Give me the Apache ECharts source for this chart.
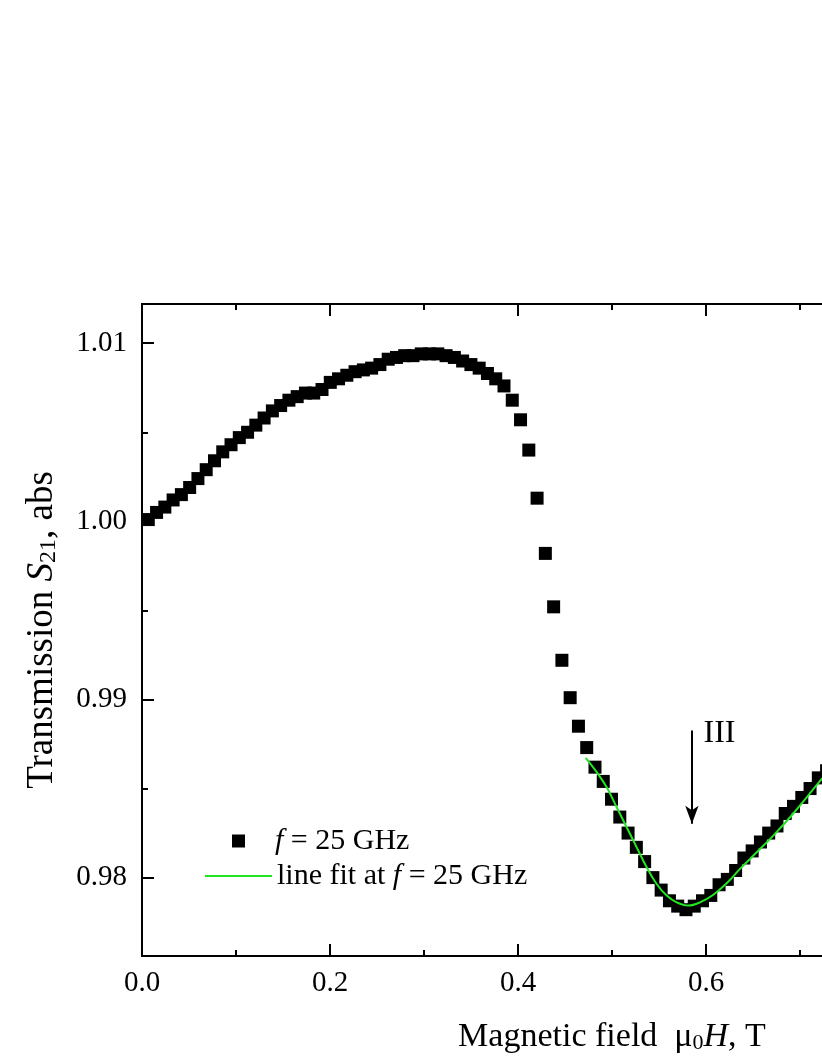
<!DOCTYPE html>
<html>
<head>
<meta charset="utf-8">
<title>Transmission S21 vs magnetic field</title>
<script src="https://cdn.jsdelivr.net/npm/echarts@6/dist/echarts.min.js"></script>
<style>
  html, body { margin: 0; padding: 0; background: #fff; overflow: hidden; }
  /* plot runs on past the right edge of the window, like the cropped original */
  #chart { width: 1200px; height: 1064px; }
</style>
</head>
<body>
<div id="chart"></div>
<script>
// measured points, f = 25 GHz
const fieldT = [
  0.0067, 0.0155, 0.0243, 0.0331, 0.0419, 0.0507, 0.0595, 0.0683, 0.0771, 0.0859,
  0.0947, 0.1035, 0.1123, 0.1211, 0.1299, 0.1387, 0.1475, 0.1563, 0.1651, 0.1739,
  0.1827, 0.1915, 0.2003, 0.2091, 0.2179, 0.2267, 0.2355, 0.2443, 0.2531, 0.2619,
  0.2707, 0.2795, 0.2883, 0.2971, 0.3059, 0.3147, 0.3235, 0.3323, 0.3411, 0.3499,
  0.3587, 0.3675, 0.3763, 0.3851, 0.3939, 0.4027, 0.4115, 0.4203, 0.4291, 0.4379,
  0.4467, 0.4555, 0.4643, 0.4731, 0.4819, 0.4907, 0.4995, 0.5083, 0.5171, 0.5259,
  0.5347, 0.5435, 0.5523, 0.5611, 0.5699, 0.5787, 0.5875, 0.5963, 0.6051, 0.6139,
  0.6227, 0.6315, 0.6403, 0.6491, 0.6579, 0.6667, 0.6755, 0.6843, 0.6931, 0.7019,
  0.7107, 0.7195, 0.7283
]
const s21 = [
  1.0001, 1.0005, 1.0008, 1.0012, 1.0015, 1.0019, 1.0024, 1.0029, 1.0034, 1.0039,
  1.0043, 1.0047, 1.0050, 1.0054, 1.0058, 1.0062, 1.0065, 1.0068, 1.0070, 1.0072,
  1.0072, 1.0074, 1.0078, 1.0080, 1.0082, 1.0084, 1.0085, 1.0086, 1.0088, 1.0091,
  1.0092, 1.0093, 1.0093, 1.0094, 1.0094, 1.0094, 1.0093, 1.0092, 1.0090, 1.0088,
  1.0086, 1.0083, 1.0080, 1.0076, 1.0068, 1.0057, 1.0040, 1.0013, 0.9982, 0.9952,
  0.9922, 0.9901, 0.9885, 0.9873, 0.9862, 0.9854, 0.9844, 0.9834, 0.9825, 0.9817,
  0.9809, 0.9800, 0.9793, 0.9787, 0.9784, 0.9782, 0.9784, 0.9787, 0.9790, 0.9796,
  0.9799, 0.9804, 0.9811, 0.9815, 0.9820, 0.9825, 0.9829, 0.9836, 0.9840, 0.9845,
  0.9850, 0.9856, 0.9860
]

// fitted curve
const fitX = [
  0.4720, 0.4837, 0.4944, 0.5050, 0.5156, 0.5263, 0.5369, 0.5475, 0.5582, 0.5688,
  0.5812, 0.5936, 0.6078, 0.6220, 0.6362, 0.6539, 0.6716, 0.6894, 0.7071, 0.7240
]
const fitY = [
  0.98672, 0.98592, 0.98507, 0.98395, 0.98283, 0.98170, 0.98058, 0.97964, 0.97899, 0.97861,
  0.97843, 0.97861, 0.97904, 0.97968, 0.98049, 0.98142, 0.98236, 0.98339, 0.98451, 0.98560
]

// axis ticks
const xMin = 0
const xMax = 1.0
const yMin = 0.9756
const yMax = 1.0122
const yMajorTicks = [0.98, 0.99, 1.00, 1.01]
const yMinorTicks = [0.975, 0.985, 0.995, 1.005]

// arrow "III" at the minimum
const arrowX = 0.585
const arrowFrom = 0.98826
const arrowTo = 0.98303
const arrowLabelAt = [0.6144, 0.98809]

const FONT = 'Liberation Serif'
const chart = echarts.init(document.getElementById('chart'))

function txt(size, italic) {
  return { fontFamily: FONT, fontSize: size, color: '#000', fontStyle: italic ? 'italic' : 'normal' }
}

const axisLine = { show: true, onZero: false, lineStyle: { color: '#000', width: 2 } }

function xAxisOpt(pos, labels) {
  return {
    type: 'value',
    position: pos,
    min: xMin,
    max: xMax,
    interval: 0.2,
    axisLine: axisLine,
    axisTick: { show: true, inside: true, length: 12, lineStyle: { color: '#000', width: 2 } },
    minorTick: { show: true, splitNumber: 2, length: 6, lineStyle: { color: '#000', width: 2 } },
    splitLine: { show: false },
    axisLabel: {
      show: labels,
      margin: 13,
      fontFamily: FONT,
      fontSize: 29,
      color: '#000',
      formatter: v => v.toFixed(1)
    }
  }
}

function yAxisOpt(pos, ticks, len, labels) {
  return {
    type: 'value',
    position: pos,
    min: yMin,
    max: yMax,
    axisLine: axisLine,
    axisTick: { show: true, inside: true, length: len, customValues: ticks, lineStyle: { color: '#000', width: 2 } },
    splitLine: { show: false },
    axisLabel: {
      show: labels,
      customValues: ticks,
      margin: 15,
      fontFamily: FONT,
      fontSize: 29,
      color: '#000',
      formatter: v => v.toFixed(2)
    }
  }
}

function titleRich(size) {
  return {
    n: Object.assign(txt(size), { lineHeight: size }),
    i: Object.assign(txt(size, true), { lineHeight: size }),
    s: Object.assign(txt(Math.round(size * 0.66)), { lineHeight: Math.round(size * 0.45), verticalAlign: 'bottom' })
  }
}

const xTitle = xAxisOpt('bottom', true)
xTitle.name = '{n|Magnetic field  μ}{s|0}{i|H}{n|, T}'
xTitle.nameLocation = 'middle'
xTitle.nameGap = 64
xTitle.nameTextStyle = { fontFamily: FONT, fontSize: 34, color: '#000', rich: titleRich(34) }

const yTitle = yAxisOpt('left', yMajorTicks, 12, true)
yTitle.name = '{n|Transmission }{i|S}{s|21}{n|, abs}'
yTitle.nameLocation = 'middle'
yTitle.nameGap = 81
yTitle.nameTextStyle = { fontFamily: FONT, fontSize: 37, color: '#000', rich: titleRich(37) }

const legendRich = {
  n: Object.assign(txt(30), { lineHeight: 30 }),
  i: Object.assign(txt(30, true), { lineHeight: 30 }),
  sp: { width: 25, lineHeight: 30 }
}

const option = {
  animation: false,
  backgroundColor: '#fff',
  grid: { left: 142, top: 304, width: 940, height: 652 },
  legend: [
    {
      data: ['f = 25 GHz'],
      left: 232, top: 826, padding: 0,
      itemWidth: 13, itemHeight: 13,
      icon: 'rect',
      selectedMode: false,
      textStyle: { rich: legendRich },
      formatter: () => '{sp| }{i|f}{n| = 25 GHz}'
    },
    {
      data: ['line fit at f = 25 GHz'],
      left: 205, top: 861, padding: 0,
      itemWidth: 67, itemHeight: 2,
      icon: 'rect',
      selectedMode: false,
      textStyle: { rich: legendRich },
      formatter: () => '{n|line fit at }{i|f}{n| = 25 GHz}'
    }
  ],
  xAxis: [xTitle, xAxisOpt('top', false)],
  yAxis: [
    yTitle,
    yAxisOpt('left', yMinorTicks, 6, false),
    yAxisOpt('right', yMajorTicks, 12, false),
    yAxisOpt('right', yMinorTicks, 6, false)
  ],
  series: [
    {
      name: 'f = 25 GHz',
      type: 'scatter',
      symbol: 'rect',
      symbolSize: 13,
      itemStyle: { color: '#000', opacity: 1 },
      clip: false,
      data: fieldT.map((x, i) => [x, s21[i]]),
      z: 2
    },
    {
      name: 'line fit at f = 25 GHz',
      type: 'line',
      smooth: 0.4,
      symbol: 'none',
      lineStyle: { color: '#22e622', width: 2 },
      itemStyle: { color: '#22e622' },
      data: fitX.map((x, i) => [x, fitY[i]]),
      z: 3,
      markLine: {
        silent: true,
        animation: false,
        symbol: ['none', 'arrow'],
        symbolSize: [10, 18],
        label: { show: false },
        lineStyle: { color: '#000', width: 2, type: 'solid' },
        data: [[{ coord: [arrowX, arrowFrom] }, { coord: [arrowX, arrowTo] }]]
      },
      markPoint: {
        silent: true,
        symbol: 'circle',
        symbolSize: 1,
        itemStyle: { color: 'rgba(0,0,0,0)' },
        label: {
          show: true,
          position: 'inside',
          formatter: 'III',
          fontFamily: FONT,
          fontSize: 32,
          color: '#000'
        },
        data: [{ coord: arrowLabelAt }]
      }
    }
  ]
}

chart.setOption(option)
</script>
</body>
</html>
